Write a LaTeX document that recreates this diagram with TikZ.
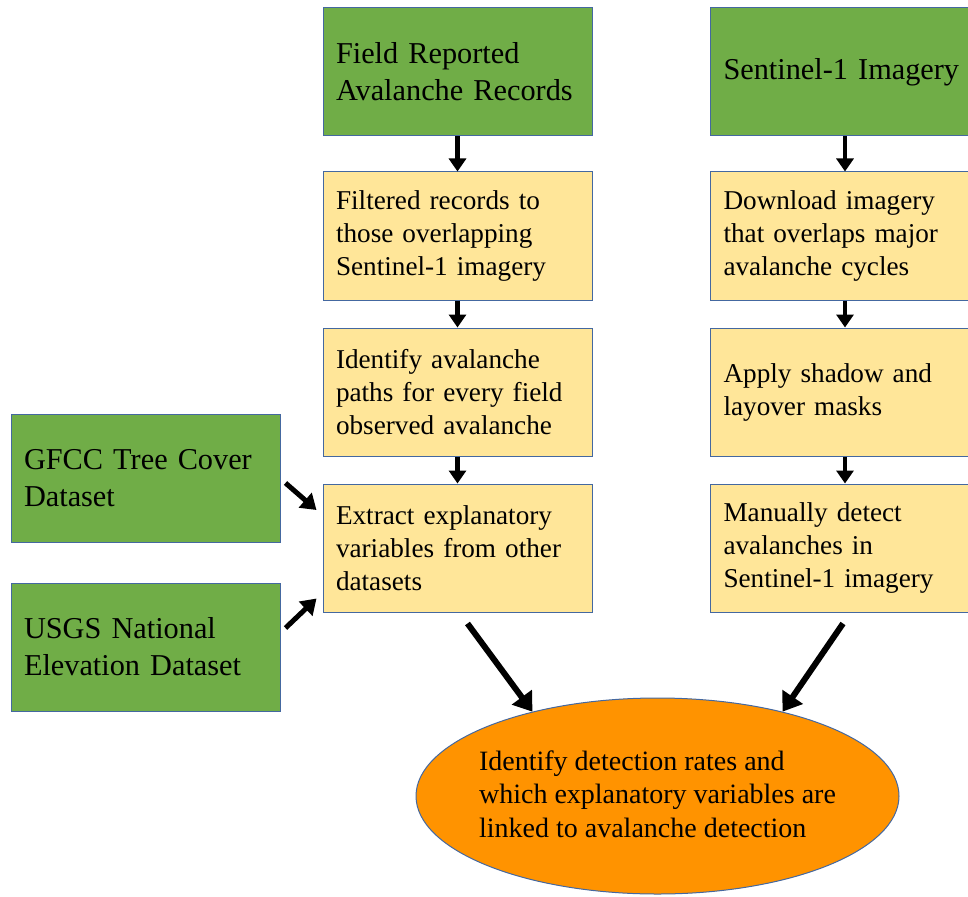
\documentclass[tikz,border=0pt]{standalone}
\usepackage{fontspec}
\setmainfont{Liberation Serif}
\usetikzlibrary{positioning,shapes.geometric,arrows.meta}

\definecolor{srcgreen}{RGB}{112,173,71}
\definecolor{stepyellow}{RGB}{255,230,153}
\definecolor{resorange}{RGB}{255,147,0}
\definecolor{edgeblue}{RGB}{68,104,160}

\begin{document}
\begin{tikzpicture}[x=1pt, y=-1pt,
    >={Triangle[width=17pt,length=13pt]},
    src/.style={%
      rectangle, draw=edgeblue, line width=1pt, fill=srcgreen,
      minimum height=128pt, text width=243pt, inner xsep=13pt,
      align=left, font=\fontsize{30.3}{37}\selectfont
    },
    proc/.style={%
      src, fill=stepyellow, font=\fontsize{27.2}{33}\selectfont
    },
    res/.style={%
      ellipse, draw=edgeblue, line width=1pt, fill=resorange,
      minimum width=483pt, minimum height=196pt, inner sep=0pt
    },
    flow/.style={->, line width=4.5pt},
    feed/.style={-{Triangle[width=19pt,length=15pt]}, line width=5pt},
    big/.style={-{Triangle[width=24pt,length=18pt]}, line width=6pt}
]
    \useasboundingbox (0,0) rectangle (968,896);
    \clip (0,0) rectangle (968,896);

    % field records column
    \node[src]  (field)   at (457.5,72)           {Field Reported\\Avalanche Records};
    \node[proc] (filt)    [below = 35pt of field] {Filtered records to\\those overlapping\\Sentinel-1 imagery};
    \node[proc] (ident)   [below = 27pt of filt]  {Identify avalanche\\paths for every field\\observed avalanche};
    \node[proc] (extract) [below = 27pt of ident] {Extract explanatory\\variables from other\\datasets};

    % sentinel column
    \node[src]  (sent)    [right = 117.5pt of field] {Sentinel-1 Imagery};
    \node[proc] (down)    [below = 35pt of sent]     {Download imagery\\that overlaps major\\avalanche cycles};
    \node[proc] (apply)   [below = 27pt of down]     {Apply shadow and\\layover masks};
    \node[proc] (manual)  [below = 27pt of apply]    {Manually detect\\avalanches in\\Sentinel-1 imagery};

    % other datasets
    \node[src]  (gfcc)    [left = 42pt of extract, yshift = 70pt] {GFCC Tree Cover\\Dataset};
    \node[src]  (usgs)    [below = 40pt of gfcc]                  {USGS National\\Elevation Dataset};

    \node[res]  (result)  at (657.5,796) {};
    \node[align=left, font=\fontsize{28}{33.5}\selectfont] (restext) at ([yshift=2pt]result.center)
      {Identify detection rates and\\which explanatory variables are\\linked to avalanche detection};

    \path[flow] (field) edge (filt)
          (filt)  edge (ident)
          (ident) edge (extract)
          (sent)  edge (down)
          (down)  edge (apply)
          (apply) edge (manual)
    ;

    \draw[feed] ([shift={(5,5)}]gfcc.east) -- ([shift={(-6,-38)}]extract.west);
    \draw[feed] ([shift={(5,-19)}]usgs.east) -- ([shift={(-6,-14)}]extract.south west);

    \draw[big] ([shift={(10,11)}]extract.south) -- (result.146);
    \draw[big] ([shift={(-2,11)}]manual.south) -- (result.34);

  \end{tikzpicture}
\end{document}
